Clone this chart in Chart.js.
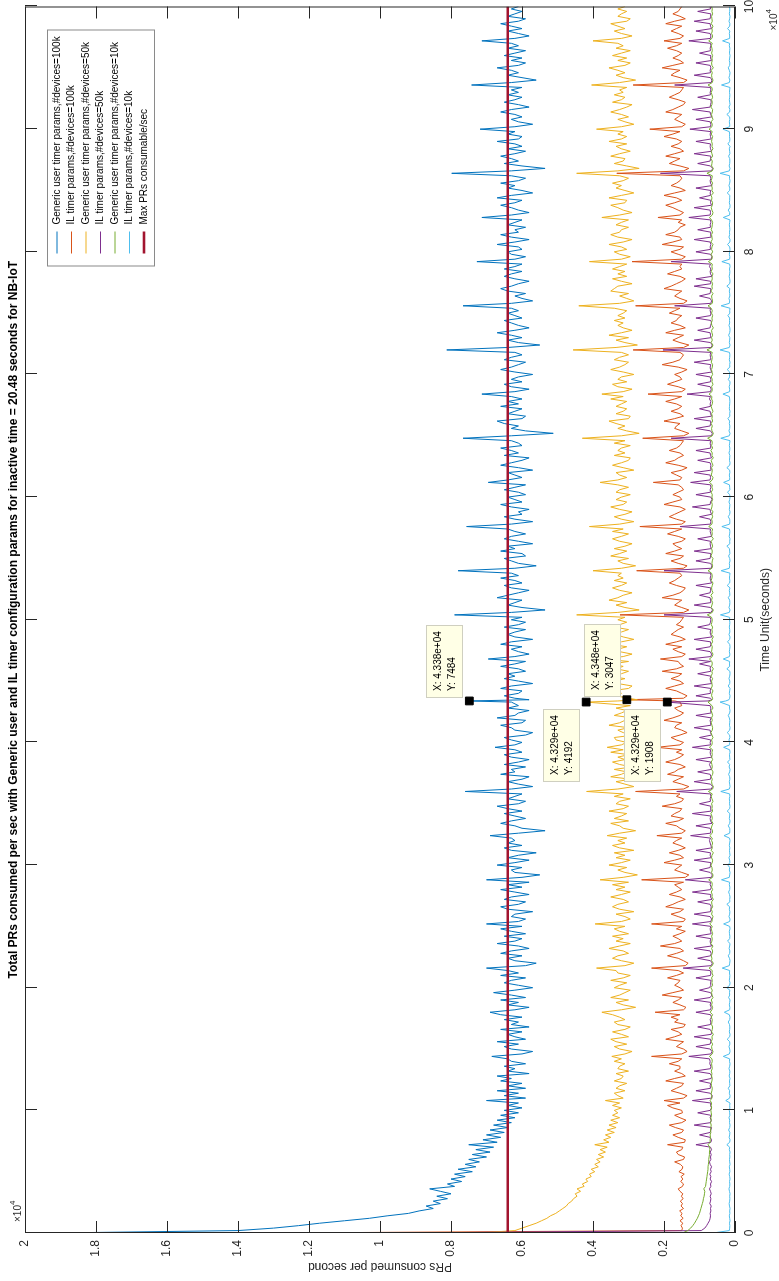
<!DOCTYPE html>
<html><head><meta charset="utf-8">
<script src="https://cdn.jsdelivr.net/npm/chart.js@4.4.1/dist/chart.umd.min.js"></script>
<style>
html,body{margin:0;padding:0;background:#fff;overflow:hidden;width:779px;height:1281px;}
#wrap{position:absolute;left:0;top:0;width:1281px;height:779px;transform-origin:0 0;transform:translate(0,1281px) rotate(-90deg);background:#fff;}
canvas{display:block;}
</style></head><body>
<div id="wrap"><canvas id="c" width="1281" height="779"></canvas></div>
<script>
const TITLE = "Total PRs consumed per sec with Generic user and IL timer configuration params for inactive time = 20.48 seconds for NB-IoT";
const X_LABEL = "Time Unit(seconds)";
const Y_LABEL = "PRs consumed per second";
const X_TICK_LABELS = ["0","1","2","3","4","5","6","7","8","9","10"];
const Y_TICK_LABELS = ["0","0.2","0.4","0.6","0.8","1","1.2","1.4","1.6","1.8","2"];
const SERIES_NAMES = [
  "Generic user timer params,#devices=100k",
  "IL timer params,#devices=100k",
  "Generic user timer params,#devices=50k",
  "IL timer params,#devices=50k",
  "Generic user timer params,#devices=10k",
  "IL timer params,#devices=10k",
  "Max PRs consumable/sec"
];
const COLORS = ["#0072BD","#D95319","#EDB120","#7E2F8E","#77AC30","#4DBEEE","#A2142F"];

// time stamps (seconds), one row per hour
const T = [
0,200,400,600,800,1000,1200,1400,1600,1800,2000,2200,2400,2600,2800,3000,3200,3400,
3600,3800,4000,4200,4400,4600,4800,5000,5200,5400,5600,5800,6000,6200,6400,6600,6800,7000,
7200,7400,7600,7800,8000,8200,8400,8600,8800,9000,9200,9400,9600,9800,10000,10200,10400,10600,
10800,11000,11200,11400,11600,11800,12000,12200,12400,12600,12800,13000,13200,13400,13600,13800,14000,14200,
14400,14600,14800,15000,15200,15400,15600,15800,16000,16200,16400,16600,16800,17000,17200,17400,17600,17800,
18000,18200,18400,18600,18800,19000,19200,19400,19600,19800,20000,20200,20400,20600,20800,21000,21200,21400,
21600,21800,22000,22200,22400,22600,22800,23000,23200,23400,23600,23800,24000,24200,24400,24600,24800,25000,
25200,25400,25600,25800,26000,26200,26400,26600,26800,27000,27200,27400,27600,27800,28000,28200,28400,28600,
28800,29000,29200,29400,29600,29800,30000,30200,30400,30600,30800,31000,31200,31400,31600,31800,32000,32200,
32400,32600,32800,33000,33200,33400,33600,33800,34000,34200,34400,34600,34800,35000,35200,35400,35600,35800,
36000,36200,36400,36600,36800,37000,37200,37400,37600,37800,38000,38200,38400,38600,38800,39000,39200,39400,
39600,39800,40000,40200,40400,40600,40800,41000,41200,41400,41600,41800,42000,42200,42400,42600,42800,43000,
43290,43380,43480,43600,43800,44000,44200,44400,44600,44800,45000,45200,45400,45600,45800,46000,46200,46400,46600,
46800,47000,47200,47400,47600,47800,48000,48200,48400,48600,48800,49000,49200,49400,49600,49800,50000,50200,
50400,50600,50800,51000,51200,51400,51600,51800,52000,52200,52400,52600,52800,53000,53200,53400,53600,53800,
54000,54200,54400,54600,54800,55000,55200,55400,55600,55800,56000,56200,56400,56600,56800,57000,57200,57400,
57600,57800,58000,58200,58400,58600,58800,59000,59200,59400,59600,59800,60000,60200,60400,60600,60800,61000,
61200,61400,61600,61800,62000,62200,62400,62600,62800,63000,63200,63400,63600,63800,64000,64200,64400,64600,
64800,65000,65200,65400,65600,65800,66000,66200,66400,66600,66800,67000,67200,67400,67600,67800,68000,68200,
68400,68600,68800,69000,69200,69400,69600,69800,70000,70200,70400,70600,70800,71000,71200,71400,71600,71800,
72000,72200,72400,72600,72800,73000,73200,73400,73600,73800,74000,74200,74400,74600,74800,75000,75200,75400,
75600,75800,76000,76200,76400,76600,76800,77000,77200,77400,77600,77800,78000,78200,78400,78600,78800,79000,
79200,79400,79600,79800,80000,80200,80400,80600,80800,81000,81200,81400,81600,81800,82000,82200,82400,82600,
82800,83000,83200,83400,83600,83800,84000,84200,84400,84600,84800,85000,85200,85400,85600,85800,86000,86200,
86400,86600,86800,87000,87200,87400,87600,87800,88000,88200,88400,88600,88800,89000,89200,89400,89600,89800,
90000,90200,90400,90600,90800,91000,91200,91400,91600,91800,92000,92200,92400,92600,92800,93000,93200,93400,
93600,93800,94000,94200,94400,94600,94800,95000,95200,95400,95600,95800,96000,96200,96400,96600,96800,97000,
97200,97400,97600,97800,98000,98200,98400,98600,98800,99000,99200,99400,99600,99800,100000
];

const GEN_100K = [
19200,14000,13000,12300,11700,11000,10300,9800,9200,8900,8500,8700,8300,8500,8100,8400,8000,8300,
8600,7900,8100,7700,8000,7600,7900,7400,7800,7300,7600,7200,7500,7000,7400,6900,7300,6800,
7500,6700,7100,6600,7000,6500,6900,6400,6800,6300,6700,6200,6600,6100,6500,6000,6400,6100,
7000,5900,6500,6100,6700,5900,6400,6000,6600,6300,6700,5800,6400,6200,6500,5900,6300,6400,
6850,6000,5700,6300,6500,6100,6700,5900,6200,6400,6000,6600,5800,6300,6100,6500,6000,6600,
6900,6200,5800,6400,6100,6600,5900,6300,6800,6200,5700,6100,6500,6300,5900,6600,6100,6400,
7000,5900,5600,6200,6400,6000,6600,6300,5800,6100,6700,6200,6000,6500,5900,6300,6600,6000,
7000,6100,5900,6300,6200,5700,6400,6600,6100,5900,6500,6300,5800,6200,6600,6000,6400,5800,
7000,6000,5500,6200,6300,6000,6700,6200,5800,6400,6100,5600,6300,6500,6000,6400,6200,6300,
6900,6100,5350,6000,6200,6600,6300,5900,6200,6500,6000,6400,6700,6100,5900,6400,6200,6000,
7600,6300,5700,6100,6400,6000,5800,6600,6200,6300,5900,6500,6100,5800,6300,6500,6000,6200,
6760,6200,6000,6300,6500,5900,5700,6200,6300,6600,6000,5900,6700,6200,6100,5800,6400,6100,
6300,7484,5800,6200,6500,6100,6000,6600,6300,5700,6100,6500,6200,6400,5900,6100,6600,6200,5900,
6950,6200,5800,6100,6300,6000,6600,6300,5700,6200,6400,6200,5900,6500,6100,5900,6300,6000,
7900,6300,5350,6000,6400,6200,6000,6700,6400,6100,5800,6300,6500,6000,6200,6600,6100,6300,
7800,6200,5600,6100,6300,6500,5900,6000,6600,6200,6400,5700,6100,6500,6300,5900,6200,6400,
7560,6300,5700,6200,6500,6000,6100,5800,6300,6600,6000,6200,6400,5900,6100,6500,6200,5900,
6950,6400,6000,6200,6400,5700,6100,6600,6300,6000,5800,6500,6100,6300,6600,6000,6100,6300,
7660,6300,5120,5900,6300,6100,6500,6700,6000,5900,6400,6200,6000,6600,6100,6400,6000,6300,
7130,6200,5800,6300,6500,6000,6300,6100,5700,6200,6600,6300,6100,5900,6500,6300,6000,6200,
8120,6400,5500,6100,6400,6000,6300,6700,6200,5800,6100,6300,6500,6000,6200,6400,6100,6300,
7660,6300,5700,6000,6200,5900,6400,6600,6300,6100,5800,6200,6500,6300,6000,6500,6200,6000,
7270,6200,5900,6300,6400,6000,6100,6700,6200,5800,6300,6600,6100,6200,5900,6400,6200,6000,
7130,6300,5800,6100,6300,6600,6200,6000,6700,6300,5700,6000,6400,6200,6600,6100,5900,6300,
7980,6300,5350,6000,6500,6100,6300,6600,6200,5900,6400,6000,6200,6700,6100,6000,6400,6200,
7180,6200,5700,6100,6300,6000,6200,6600,6300,5800,6100,6500,6200,6000,6400,6100,6300,6000,
7420,6300,5600,6000,6400,6100,6300,6700,6100,5900,6300,6000,6500,6200,5900,6400,6100,6300,
7130,6200,5800,6100,6400,6000,6300,6600,6100,5900,6400,6200,6000,6300,6100
];

const IL_100K = [
12900,1500,1480,1520,1470,1550,1460,1530,1490,1560,1450,1520,1480,1540,1460,1510,1470,1550,
1600,1480,1450,1530,1470,1520,1430,1580,1490,1470,1540,1700,1450,1420,1600,1650,1500,1470,
1900,1420,1400,1600,1750,1500,1450,1680,1850,1500,1380,1550,1700,1480,1500,1750,1900,1550,
2000,1450,1350,1550,1800,1650,1500,1450,1950,1700,1400,1500,1700,1550,1550,1850,1600,1500,
2350,1500,1350,1450,1650,1550,1450,1950,1700,1500,1600,1800,1450,1400,1700,1600,1800,1550,
2250,1450,1380,1550,1750,1600,1500,2050,1750,1450,1550,1700,1600,1550,1900,1650,1450,1600,
2350,1400,1320,1450,1600,1900,1650,1450,1550,2100,1700,1500,1600,1750,1550,1400,1650,1500,
2350,1450,1400,1600,1800,1550,1450,1950,1750,1600,1400,1550,1850,1650,1500,1600,1700,1450,
2630,1400,1300,1500,1700,1600,1500,2000,1700,1450,1550,1850,1600,1400,1550,1750,1650,1500,
2200,1500,1400,1550,1650,1950,1600,1450,1800,1700,1550,1500,2050,1700,1500,1450,1650,1550,
2800,1450,1300,1500,1750,1600,1450,1900,1700,1600,1400,1550,1950,1700,1550,1450,1650,1500,
2200,1550,1450,1650,1800,1550,1350,1500,1700,1650,1500,2000,1750,1550,1450,1600,1700,1500,
1550,1700,3047,1450,1350,1500,1650,1950,1700,1450,1550,1800,1600,1500,2050,1650,1450,1550,1600,
2100,1500,1400,1600,1750,1500,1950,1650,1400,1550,1800,1700,1600,1450,1650,1550,1500,1450,
3240,1450,1300,1500,1700,1600,1500,2050,1750,1550,1450,1400,1650,1850,1700,1600,1500,1550,
2770,1450,1350,1600,1800,1550,1450,1950,1700,1500,1650,1750,1500,1400,1600,1900,1700,1500,
2680,1500,1400,1650,1850,1700,1550,1400,1550,2000,1750,1500,1550,1750,1600,1450,1500,1600,
2300,1550,1500,1650,1800,1500,1350,1600,1950,1700,1600,1450,1550,1850,1650,1550,1500,1450,
2600,1450,1300,1500,1700,1650,1550,2000,1700,1450,1550,1800,1600,1500,1650,1950,1700,1500,
2450,1500,1400,1600,1900,1700,1500,1550,1700,1500,1350,1600,2050,1750,1550,1500,1450,1550,
2870,1450,1300,1550,1750,1600,1450,1950,1700,1400,1550,1800,1650,1600,1500,1850,1700,1550,
2800,1450,1350,1550,1700,1600,1500,2000,1800,1650,1500,1400,1550,1900,1700,1500,1550,1500,
2900,1500,1400,1600,1800,1550,1450,2050,1750,1500,1550,1950,1700,1600,1550,1400,1600,1500,
2170,1550,1450,1600,1750,1950,1700,1500,1650,2000,1700,1400,1550,1800,1650,1550,1500,1550,
3330,1450,1300,1550,1850,1700,1550,1950,1700,1450,1550,1800,1600,1500,1650,2000,1750,1550,
2400,1500,1400,1550,1700,1600,1500,1950,1750,1600,1450,1400,1600,1850,1700,1550,1500,1450,
2870,1450,1350,1550,1800,1700,1550,2050,1750,1450,1550,1750,1600,1500,1650,1900,1650,1500,
2000,1550,1450,1600,1800,1650,1500,1950,1700,1400,1550,1750,1600,1550,1500
];

const GEN_50K = [
7200,6200,6000,5800,5600,5450,5300,5200,5050,4950,4850,4750,4700,4600,4550,4450,4500,4350,
4450,4250,4300,4150,4200,4050,4100,3950,4050,3850,3950,3800,3900,3700,3850,3650,3800,3600,
3950,3550,3700,3500,3650,3400,3600,3350,3550,3300,3500,3250,3450,3300,3400,3200,3450,3250,
3650,3150,3300,3400,3100,3350,3250,3050,3400,3200,3150,3350,3000,3300,3250,3100,3400,3200,
3470,3100,2900,3250,3400,3050,3350,3500,3000,3200,3450,3100,2950,3300,3400,3100,3250,3450,
3750,3200,2800,3150,3350,3000,3500,3250,3100,2950,3400,3250,3050,3500,3150,2950,3300,3350,
3900,3100,2850,3200,3450,3300,3000,3150,3550,3250,2950,3350,3150,3450,3000,3250,3400,3100,
3940,3200,2950,3100,3350,2850,3250,3450,3300,3000,3150,3500,3200,2950,3350,3100,3450,3000,
3800,3150,2750,3100,3300,3050,3550,3200,2950,3350,3100,3400,2850,3250,3450,3100,3300,3050,
3600,3250,2800,3150,3250,3500,3000,3400,3200,3050,3550,3150,3000,3350,3250,2950,3400,3150,
4180,3300,2850,3100,3350,2950,3500,3200,3050,3400,2900,3250,3450,3100,3300,3000,3500,3150,
3600,3200,3050,3350,3400,2850,3150,3300,3000,3550,3250,3100,2900,3400,3200,3050,3350,2950,
4192,3300,2750,3000,3350,3200,3500,3000,2900,3300,3400,3100,3550,3200,3000,3350,3150,3450,3000,
3700,3150,2900,3250,3300,3050,3500,3200,2850,3150,3350,3200,3000,3400,3250,3050,3300,3100,
4460,3300,2700,3100,3350,3050,3550,3300,3150,2900,3250,3450,3200,3050,3400,3150,3300,3200,
4000,3200,2800,3150,3300,3000,3500,3250,3050,3400,3100,2900,3250,3450,3200,3000,3450,3150,
4100,3250,2850,3200,3400,3100,2900,3250,3500,3150,3050,3350,3200,2950,3350,3250,3000,3300,
3800,3300,3050,3250,3350,2850,3150,3450,3200,3000,2950,3400,3100,3300,3200,2950,3400,3100,
4300,3200,2700,3050,3300,3100,3350,3550,3000,2950,3350,3150,3050,3350,3200,3050,3500,3150,
3750,3150,2900,3300,3450,3050,3300,3200,2850,3150,3500,3250,3100,3000,3400,3250,3000,3200,
4560,3350,2750,3100,3350,3000,3550,3200,2900,3150,3300,3150,3400,3100,3300,3150,3050,3400,
4400,3250,2850,3050,3250,3000,3500,3400,3300,2900,3200,3450,3050,3300,3100,3450,3250,3050,
4100,3200,2950,3250,3400,3050,3200,3550,3150,2900,3300,3500,3250,3200,3000,3350,3200,3000,
3750,3250,2900,3150,3300,3500,3100,3050,3550,3200,2850,3100,3350,3200,3450,3150,3000,3250,
4460,3300,2700,3050,3400,3150,3100,3500,3250,2950,3200,3350,3050,3550,3200,3050,3300,3150,
3900,3200,2850,3100,3300,3000,3200,3500,3250,3050,2900,3450,3200,3100,3400,3150,3250,3050,
4040,3250,2800,3150,3350,3100,3300,3550,3100,2950,3300,3050,3450,3200,2950,3350,3150,3300,
4000,3200,2900,3200,3400,3100,3300,3500,3050,2950,3300,3200,3050,3300,3100
];

const IL_50K = [
9450,950,850,800,760,720,700,690,700,680,690,670,710,690,680,700,670,690,
720,680,690,660,700,680,710,670,690,660,700,720,680,690,670,700,660,690,
1100,680,660,700,1000,700,680,660,1150,690,670,700,680,1050,700,660,690,680,
1200,660,640,700,1100,690,700,680,1000,670,660,700,1150,690,680,710,700,720,
1300,680,650,700,1100,700,680,690,1150,670,660,700,1050,690,680,700,660,690,
1100,690,670,700,680,1150,700,650,690,1000,720,680,690,670,1100,690,680,700,
1460,670,640,690,1050,690,670,700,1150,660,690,700,680,1100,670,690,700,680,
1200,680,660,700,1150,690,680,670,700,1050,650,690,680,1200,690,670,700,690,
1400,660,640,700,1000,700,690,680,1150,670,700,690,1100,660,680,700,720,690,
1250,690,680,700,1100,650,690,700,680,1200,670,690,680,1000,690,700,680,690,
1640,670,630,690,1150,690,680,700,1050,660,690,720,680,1100,650,690,700,680,
1200,690,700,680,1000,660,690,700,1150,680,690,700,670,1100,670,690,680,700,
1908,760,650,690,1100,690,700,680,1150,660,690,700,680,1050,680,700,690,1000,690,
1300,680,660,700,1100,700,680,690,1150,650,690,700,680,1050,720,690,680,700,
2000,680,630,690,1150,680,690,700,1000,700,690,680,1100,660,690,700,680,690,
2000,670,650,690,1100,700,690,680,1150,670,690,700,690,1050,660,680,700,690,
1550,690,680,700,1000,660,690,700,1200,700,690,650,680,1100,690,700,680,690,
1250,700,690,700,1150,670,690,680,700,1050,660,690,700,1100,680,690,700,680,
1800,660,640,690,1100,700,690,680,1150,660,690,700,1000,690,700,680,720,690,
1350,690,670,700,1050,690,680,700,1100,650,690,700,680,1150,680,690,700,680,
2030,670,640,690,1150,680,690,700,1050,700,690,660,680,1100,690,680,700,690,
1700,680,660,700,1000,700,690,680,1150,680,690,1100,650,690,700,680,720,690,
1800,670,650,690,1100,690,700,680,700,1150,670,690,680,1050,690,700,680,690,
1300,700,690,700,1150,660,690,680,1000,690,700,680,1100,650,690,700,680,700,
2100,660,630,690,1050,700,690,680,1150,660,690,700,690,1100,670,690,700,680,
1270,690,680,700,1100,650,690,700,1200,700,690,670,680,1050,690,700,680,690,
1700,670,650,690,1150,690,700,680,700,1100,660,690,680,1000,690,700,680,690,
1300,690,680,700,1100,660,690,700,1150,700,690,680,1050,690,700
];

const GEN_10K = [
1480,1330,1250,1190,1140,1100,1060,1030,1000,980,960,940,920,900,890,870,860,850,
880,830,820,810,800,790,780,770,760,760,750,740,740,730,720,720,710,710,
760,700,700,690,700,680,690,680,670,690,670,680,660,670,680,660,670,660,
700,650,660,670,650,640,660,670,650,640,660,650,670,640,650,660,640,650,
720,640,620,650,660,630,670,640,650,610,660,640,630,660,650,640,670,630,
700,650,630,660,640,670,620,650,660,640,680,630,650,640,660,620,650,640,
730,640,610,660,650,670,640,630,660,620,680,650,640,660,630,650,670,640,
710,650,640,620,660,640,670,630,650,660,610,650,640,670,630,660,640,650,
740,630,620,660,640,650,680,640,630,660,650,610,670,640,650,630,660,640,
710,640,630,670,650,620,660,640,650,680,630,650,640,660,620,650,670,640,
750,630,610,650,660,640,670,630,620,660,640,650,670,630,660,640,650,630,
720,650,640,660,620,650,680,640,630,650,670,640,660,630,650,670,620,650,
760,700,640,630,660,650,620,670,640,650,660,630,680,640,650,610,660,640,650,
720,640,620,660,650,640,670,630,650,610,660,640,650,630,670,650,640,660,
780,640,610,670,650,630,660,640,680,620,650,660,640,620,670,650,640,660,
760,650,630,650,640,620,680,650,640,660,630,650,670,610,660,640,650,630,
740,650,640,660,630,650,620,670,650,640,660,630,650,640,670,630,650,640,
720,640,620,670,650,640,660,620,650,670,610,650,640,680,630,660,640,650,
770,640,610,650,660,640,670,630,650,640,660,620,650,670,640,630,660,650,
730,650,640,660,620,650,640,670,630,650,660,640,630,670,650,640,660,640,
790,650,620,670,640,660,630,650,660,610,650,670,640,650,630,660,640,670,
760,640,630,650,660,620,680,640,650,630,660,640,650,620,670,640,650,640,
750,650,640,670,630,660,650,620,680,640,650,660,630,670,650,640,630,660,
720,640,620,650,670,640,630,660,650,670,610,650,640,660,630,670,650,640,
790,640,610,660,650,640,680,630,650,670,620,650,640,660,650,630,670,640,
730,650,640,670,620,650,660,640,630,680,650,640,660,630,650,670,640,650,
760,640,620,650,660,640,670,610,650,660,640,650,630,660,640,650,670,640,
740,650,630,660,640,650,620,670,640,650,660,630,650,640,660
];

const IL_10K = [
620,160,150,145,155,140,150,160,145,150,140,155,165,150,145,150,140,155,
170,150,145,155,140,150,165,145,150,160,140,150,155,145,150,140,160,150,
230,150,140,165,150,145,180,150,140,155,150,170,145,150,160,145,150,140,
260,150,140,160,150,190,145,150,155,140,165,150,145,170,150,140,155,150,
330,160,140,150,170,145,150,220,150,140,160,150,145,155,190,150,140,160,
300,150,145,160,150,140,180,150,155,145,230,150,140,160,150,145,155,150,
360,160,150,140,155,190,150,145,165,150,140,210,150,145,155,160,140,150,
320,150,140,170,150,145,160,150,230,145,150,140,155,180,150,145,160,150,
380,160,150,140,160,150,200,145,150,170,140,150,155,145,160,150,140,155,
310,150,145,150,190,150,140,160,150,145,220,150,140,155,150,160,145,150,
400,160,140,150,160,145,150,180,150,140,165,150,210,145,150,155,140,150,
320,150,150,170,145,150,220,150,140,155,150,145,160,190,150,140,155,150,
420,260,170,150,140,160,150,140,190,150,145,170,150,140,145,230,150,155,150,
330,155,145,160,150,140,150,210,150,140,170,145,150,160,150,145,155,150,
410,160,140,170,150,145,150,190,145,150,160,140,220,150,145,155,150,140,
390,160,150,160,140,150,180,145,150,155,230,145,150,140,165,150,145,155,
370,150,145,150,190,150,140,160,150,145,170,150,140,150,210,145,150,155,
320,150,150,160,145,150,230,150,140,155,150,145,170,150,145,160,150,140,
400,160,140,170,150,145,160,150,200,145,150,140,160,155,150,145,150,160,
340,150,150,165,145,140,190,150,155,150,220,145,150,140,160,150,145,155,
420,160,140,160,150,145,180,150,140,145,170,150,155,150,200,145,150,140,
390,160,150,170,145,150,160,145,230,150,140,150,165,150,145,155,140,150,
370,150,145,160,150,140,150,210,145,140,170,150,155,145,150,160,150,140,
330,150,150,190,145,140,160,150,150,145,220,150,145,170,150,140,155,150,
420,160,140,165,150,145,150,180,145,150,160,140,200,150,145,155,150,160,
340,150,150,160,145,150,230,150,145,170,140,150,160,150,145,155,150,140,
380,160,145,170,150,140,160,190,150,145,160,150,140,155,150,145,160,150,
350,150,150,160,145,210,150,145,170,150,140,160,150,145,155
];

const MAX_PRS = 6400;
const TIME_RANGE = [0, 100000];
const TIP_T = [43380, 43290, 43480, 43290];
const TIP_V = [7484, 4192, 3047, 1908];
const TIP_SIDE = ["right", "left", "right", "left"];

const FONT = '"Liberation Sans", Arial, Helvetica, sans-serif';
const AX = '#262626';

function fmtExp(v){
  const e = Math.floor(Math.log10(v));
  const m = v / Math.pow(10, e);
  return m.toFixed(3) + 'e+' + String(e).padStart(2, '0');
}

const SERIES = [GEN_100K, IL_100K, GEN_50K, IL_50K, GEN_10K, IL_10K];
const datasets = SERIES.map((vals, k) => ({
  type: 'line',
  label: SERIES_NAMES[k],
  data: T.map((t, i) => ({x: t, y: vals[i]})),
  borderColor: COLORS[k],
  backgroundColor: COLORS[k],
  borderWidth: 1,
  pointRadius: 0,
  tension: 0,
  fill: false,
  borderJoinStyle: 'round',
  order: 20 - k
}));
datasets.push({
  type: 'line',
  label: SERIES_NAMES[6],
  data: TIME_RANGE.map(t => ({x: t, y: MAX_PRS})),
  borderColor: COLORS[6],
  backgroundColor: COLORS[6],
  borderWidth: 2.6,
  pointRadius: 0,
  fill: false,
  order: 2
});
datasets.push({
  type: 'scatter',
  label: 'datatips',
  data: TIP_T.map((t, i) => ({x: t, y: TIP_V[i]})),
  pointStyle: 'rect',
  pointRadius: 5.5,
  backgroundColor: '#000',
  borderColor: '#000',
  borderWidth: 1,
  showLine: false,
  order: 0
});

const overlay = {
  id: 'overlay',
  afterDraw(chart) {
    const {ctx, chartArea: a, scales: {x, y}} = chart;
    ctx.save();
    ctx.strokeStyle = AX; ctx.lineWidth = 1;
    ctx.strokeRect(a.left + 0.5, a.top + 0.5, a.right - a.left - 1, a.bottom - a.top - 1);
    const TL = 12;
    ctx.beginPath();
    x.ticks.forEach(t => {
      const px = Math.round(x.getPixelForValue(t.value)) + 0.5;
      ctx.moveTo(px, a.bottom); ctx.lineTo(px, a.bottom - TL);
      ctx.moveTo(px, a.top); ctx.lineTo(px, a.top + TL);
    });
    y.ticks.forEach(t => {
      const py = Math.round(y.getPixelForValue(t.value)) + 0.5;
      ctx.moveTo(a.left, py); ctx.lineTo(a.left + TL, py);
      ctx.moveTo(a.right, py); ctx.lineTo(a.right - TL, py);
    });
    ctx.stroke();

    const cx = (a.left + a.right) / 2, cy = (a.top + a.bottom) / 2;
    ctx.fillStyle = '#000';
    ctx.font = 'bold 12px ' + FONT;
    ctx.textAlign = 'center'; ctx.textBaseline = 'middle';
    ctx.fillText(TITLE, cx, 14);
    ctx.fillStyle = AX;
    ctx.font = '12px ' + FONT;
    ctx.fillText(X_LABEL, cx, 766);
    ctx.save();
    ctx.translate(15, cy); ctx.rotate(-Math.PI / 2);
    ctx.fillText(Y_LABEL, 0, 0);
    ctx.restore();
    ctx.textAlign = 'left'; ctx.textBaseline = 'alphabetic';
    ctx.font = '10px ' + FONT;
    const w10 = ctx.measureText('\u00d710').width;
    ctx.fillText('\u00d710', a.right - 24, 777);
    ctx.fillText('\u00d710', a.left + 11, 21);
    ctx.font = '8px ' + FONT;
    ctx.fillText('4', a.right - 24 + w10, 771);
    ctx.fillText('4', a.left + 11 + w10, 15);

    const LX = a.right - 260, LY = a.top + 22, LW = 237, LH = 108;
    ctx.fillStyle = '#fff';
    ctx.fillRect(LX, LY, LW, LH);
    ctx.strokeStyle = '#8a8a8a'; ctx.lineWidth = 1;
    ctx.strokeRect(LX + 0.5, LY + 0.5, LW - 1, LH - 1);
    ctx.font = '10px ' + FONT;
    ctx.textBaseline = 'middle';
    chart.data.datasets.slice(0, 7).forEach((ds, i) => {
      const yy = LY + 10 + i * 14.5;
      ctx.strokeStyle = ds.borderColor;
      ctx.lineWidth = ds.borderWidth;
      ctx.beginPath(); ctx.moveTo(LX + 13, yy); ctx.lineTo(LX + 35, yy); ctx.stroke();
      ctx.fillStyle = '#000';
      ctx.fillText(ds.label, LX + 42, yy);
    });

    const TW = 73, TH = 37;
    TIP_T.forEach((t, i) => {
      const mx = x.getPixelForValue(t), my = y.getPixelForValue(TIP_V[i]);
      const bx = Math.round(TIP_SIDE[i] === 'right' ? mx + 3 : mx - 7 - TW);
      const by = Math.round(my - 6 - TH);
      ctx.fillStyle = '#ffffe6';
      ctx.fillRect(bx, by, TW, TH);
      ctx.strokeStyle = '#cfcfc0'; ctx.lineWidth = 1;
      ctx.strokeRect(bx + 0.5, by + 0.5, TW - 1, TH - 1);
      ctx.fillStyle = '#000';
      ctx.font = '10px ' + FONT;
      ctx.textAlign = 'left'; ctx.textBaseline = 'middle';
      ctx.fillText('X: ' + fmtExp(t), bx + 7, by + 12);
      ctx.fillText('Y: ' + TIP_V[i], bx + 7, by + 26);
    });
    ctx.restore();
  }
};

new Chart(document.getElementById('c'), {
  type: 'line',
  data: {datasets},
  options: {
    responsive: false,
    animation: false,
    devicePixelRatio: 1,
    events: [],
    layout: {padding: {left: 0, right: 5, top: 25, bottom: 0}},
    plugins: {legend: {display: false}, tooltip: {enabled: false}, title: {display: false}},
    scales: {
      x: {
        type: 'linear', min: TIME_RANGE[0], max: TIME_RANGE[1],
        grid: {display: false, drawTicks: false}, border: {display: false},
        ticks: {stepSize: 10000, autoSkip: false, maxRotation: 0, padding: 7,
          color: AX, font: {family: FONT, size: 12},
          callback: (v, i) => X_TICK_LABELS[i]},
        afterFit(s) { s.height = 44; s.paddingLeft = 0; s.paddingRight = 0; }
      },
      y: {
        type: 'linear', min: 0, max: 20000,
        grid: {display: false, drawTicks: false}, border: {display: false},
        ticks: {stepSize: 2000, autoSkip: false, padding: 7,
          color: AX, font: {family: FONT, size: 12},
          callback: (v, i) => Y_TICK_LABELS[i]},
        afterFit(s) { s.width = 48; s.paddingTop = 0; s.paddingBottom = 0; }
      }
    }
  },
  plugins: [overlay]
});
</script>
</body></html>
